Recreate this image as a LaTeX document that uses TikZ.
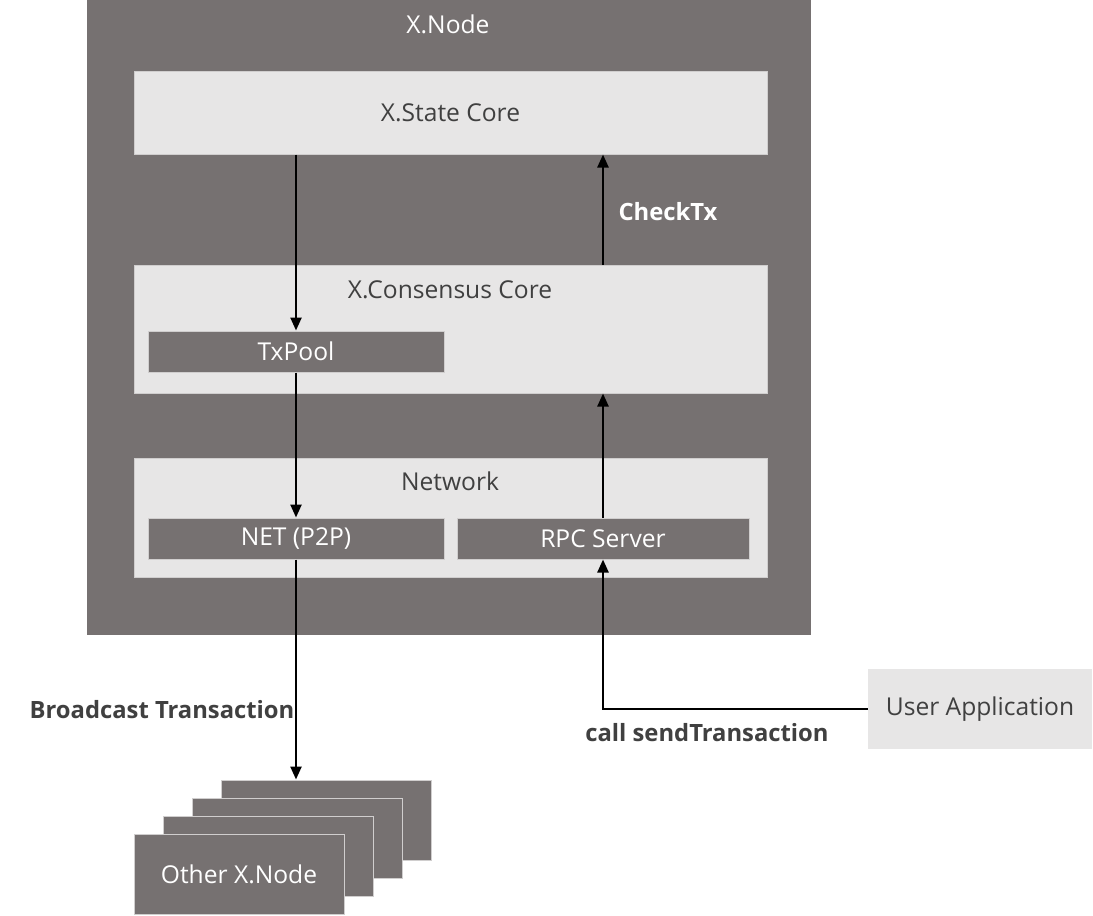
\documentclass[tikz,border=0pt]{standalone}
\usepackage{fontspec}
\setmainfont{Open Sans}
\usetikzlibrary{arrows.meta}
\definecolor{boxdark}{HTML}{767171}
\definecolor{boxlight}{HTML}{E7E6E6}
\definecolor{boxedge}{HTML}{D0CECE}
\definecolor{txtdark}{HTML}{404040}
\tikzset{
  darkbox/.style={fill=boxdark,draw=boxedge,line width=0.5pt,text=white,inner sep=0pt,font=\fontsize{12.3}{14}\selectfont},
  lightbox/.style={fill=boxlight,draw=boxedge,line width=0.5pt,text=txtdark,inner sep=0pt,font=\fontsize{12.3}{14}\selectfont},
  boxlabel/.style={inner sep=0pt,font=\fontsize{12.3}{14}\selectfont},
  flowlabel/.style={inner sep=0pt,font=\fontsize{11.9}{14}\selectfont\bfseries},
  flowarrow/.style={-{Triangle[length=6.5pt,width=5.5pt]},line width=1.2pt,black}
}
\begin{document}
\begin{tikzpicture}[x=0.5pt,y=-0.5pt]
  \useasboundingbox (0,0) rectangle (1093,916);
  % X.Node and its parts
  \node[darkbox,draw=none,minimum width=362pt,minimum height=317.5pt] (xnode) at (449,317.5) {};
  \node[boxlabel,text=white] (xnodelbl) at (448,24) {X.Node};
  \node[lightbox,minimum width=316.5pt,minimum height=41.5pt] (state) at (450.5,112.5) {X.State Core};
  \node[lightbox,minimum width=316.5pt,minimum height=64pt] (consensus) at (450.5,329) {};
  \node[boxlabel,text=txtdark] (consensuslbl) at (450,290) {X.Consensus Core};
  \node[darkbox,minimum width=148pt,minimum height=20.5pt] (txpool) at (296,351.5) {TxPool};
  \node[lightbox,minimum width=316.5pt,minimum height=59.5pt] (network) at (450.5,517.5) {};
  \node[boxlabel,text=txtdark] (networklbl) at (450,481) {Network};
  \node[darkbox,minimum width=148pt,minimum height=20.5pt] (net) at (296,538.5) {NET (P2P)};
  \node[darkbox,minimum width=146pt,minimum height=20.5pt] (rpc) at (603,538.5) {RPC Server};
  % outside
  \node[lightbox,draw=none,minimum width=112pt,minimum height=40pt] (user) at (980,709) {User Application};
  \foreach \i/\dx/\dy in {3/87/-54,2/58/-36,1/29/-18}
    \node[darkbox,minimum width=105pt,minimum height=40pt] (other\i) at (239+\dx,874+\dy) {};
  \node[darkbox,minimum width=105pt,minimum height=40pt] (other0) at (239,874) {Other X.Node};
  % flows
  \draw[flowarrow] (state.south -| txpool.north) -- (txpool.north);
  \draw[flowarrow] (txpool.south) -- (net.north);
  \draw[flowarrow] (net.south) -- (net.south |- other3.north);
  \draw[flowarrow] (rpc.north) -- (rpc.north |- consensus.south);
  \draw[flowarrow] (consensus.north -| rpc.north) -- (state.south -| rpc.north);
  \draw[flowarrow] (user.west) -| (rpc.south);
  \node[flowlabel,text=white] (checktx) at (668,212) {CheckTx};
  \node[flowlabel,text=txtdark] (broadcast) at (162,710) {Broadcast Transaction};
  \node[flowlabel,text=txtdark] (sendtx) at (707,733) {call sendTransaction};
\end{tikzpicture}
\end{document}
